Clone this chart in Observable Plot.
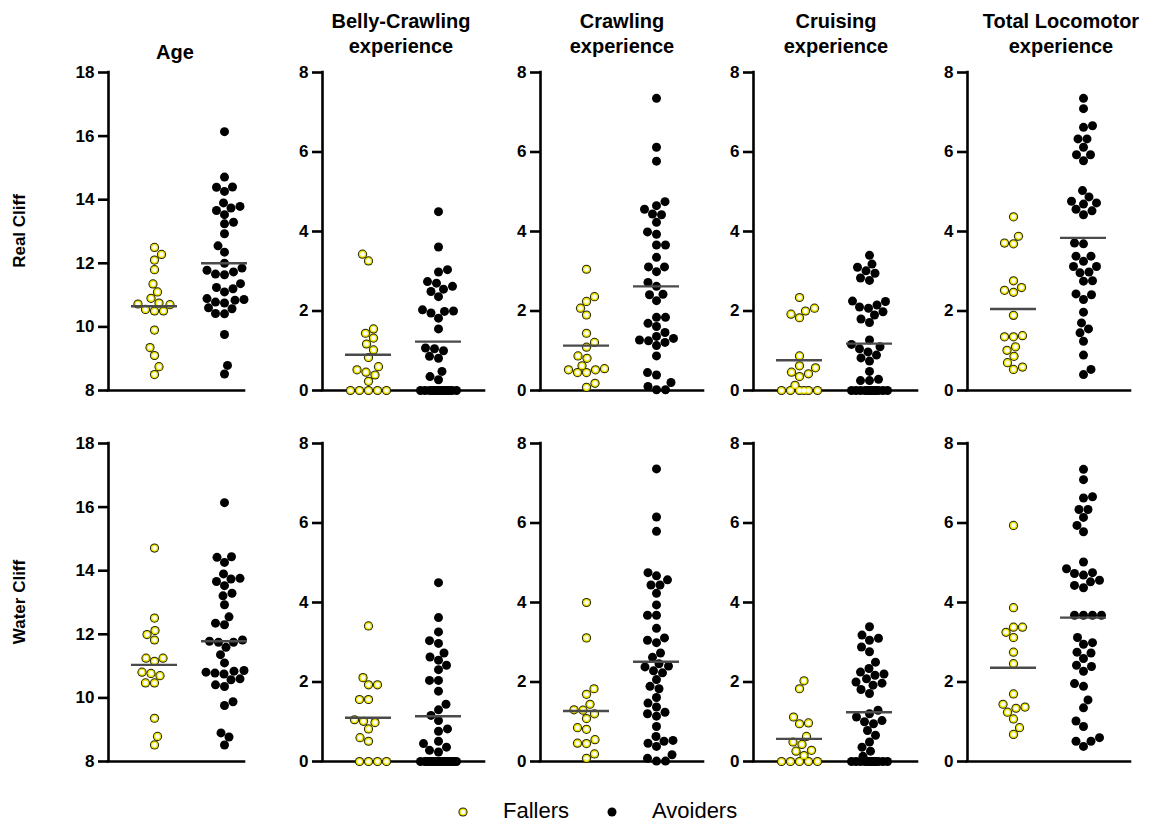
<!DOCTYPE html>
<html>
<head>
<meta charset="utf-8">
<script src="https://cdn.jsdelivr.net/npm/d3@7"></script>
<script src="https://cdn.jsdelivr.net/npm/@observablehq/plot@0.6"></script>
<style>
  html, body { margin: 0; padding: 0; background: #fff; }
  #wrap { position: relative; width: 1157px; height: 823px; font-family: "Liberation Sans", Arial, sans-serif; color: #000; overflow: hidden; }
  .ttl { position: absolute; font-weight: bold; font-size: 20px; line-height: 25px; text-align: center; width: 220px; }
  .row { position: absolute; font-weight: bold; font-size: 17px; white-space: nowrap; transform: translate(-50%, -50%) rotate(-90deg); }
  .panel { position: absolute; }
  .leg { position: absolute; font-size: 22px; white-space: nowrap; }
</style>
</head>
<body>
<div id="wrap"></div>
<script>
// ---------- data ----------
const groups = ["Fallers", "Avoiders"];
const variables = ["Age", "Belly-Crawling experience", "Crawling experience", "Cruising experience", "Total Locomotor experience"];
const rowLabels = ["Real Cliff", "Water Cliff"];
const ageTicks = [8, 10, 12, 14, 16, 18];
const expTicks = [0, 2, 4, 6, 8];

// Real cliff
const realAgeFallers = [12.5, 12.28, 12.1, 11.8, 11.35, 11.1, 10.9, 10.72, 10.75, 10.7, 10.5, 10.55, 10.5, 9.9, 9.35, 9.1, 8.75, 8.5];
const realAgeAvoiders = [16.14, 14.71, 14.4, 14.39, 14.26, 13.9, 13.79, 13.74, 13.66, 13.53, 13.29, 13.24, 12.93, 12.55, 12.35, 12.0, 11.85, 11.78, 11.73, 11.64, 11.66, 11.36, 11.24, 11.2, 11.1, 10.86, 10.84, 10.78, 10.75, 10.89, 10.6, 10.57, 10.42, 10.41, 9.76, 8.79, 8.52];
const realBellyFallers = [3.43, 3.26, 1.55, 1.44, 1.32, 1.17, 1.02, 0.83, 0.6, 0.52, 0.46, 0.39, 0.23, 0, 0, 0, 0, 0];
const realBellyAvoiders = [4.5, 3.61, 3.04, 2.98, 2.74, 2.7, 2.62, 2.55, 2.49, 2.36, 2.03, 2.0, 1.99, 1.95, 1.82, 1.55, 1.07, 1.05, 1.0, 0.86, 0.81, 0.48, 0.35, 0.27, 0, 0, 0, 0, 0, 0, 0, 0, 0, 0, 0, 0, 0, 0];
const realCrawlFallers = [3.05, 2.36, 2.24, 2.07, 1.9, 1.44, 1.21, 1.09, 0.87, 0.81, 0.62, 0.52, 0.45, 0.45, 0.52, 0.55, 0.18, 0.08];
const realCrawlAvoiders = [7.35, 6.12, 5.77, 4.75, 4.56, 4.65, 4.42, 4.44, 4.23, 3.99, 3.93, 3.66, 3.66, 3.35, 3.11, 3.11, 2.99, 2.72, 2.62, 2.41, 2.42, 2.26, 1.84, 1.84, 1.69, 1.61, 1.46, 1.36, 1.31, 1.21, 1.25, 1.27, 1.13, 0.87, 0.39, 0.45, 0.2, 0.1, 0.02, 0.02];
const realCruiseFallers = [2.34, 2.07, 2.0, 1.92, 1.83, 0.87, 0.62, 0.57, 0.46, 0.42, 0.35, 0.13, 0, 0, 0, 0, 0, 0];
const realCruiseAvoiders = [3.4, 3.18, 3.1, 3.01, 2.95, 2.83, 2.77, 2.25, 2.24, 2.15, 2.1, 2.07, 1.98, 1.9, 1.8, 1.71, 1.27, 1.16, 1.1, 1.05, 0.97, 0.89, 0.82, 0.74, 0.48, 0.28, 0.25, 0.25, 0, 0, 0, 0, 0, 0, 0, 0, 0, 0, 0, 0];
const realTotalFallers = [4.37, 3.88, 3.69, 3.71, 2.76, 2.52, 2.59, 2.47, 1.89, 1.35, 1.38, 1.35, 1.01, 1.1, 0.86, 0.7, 0.59, 0.53];
const realTotalAvoiders = [7.35, 7.09, 6.62, 6.66, 6.33, 6.33, 6.12, 5.93, 5.93, 5.78, 5.03, 4.87, 4.76, 4.72, 4.69, 4.56, 4.52, 4.42, 3.71, 3.69, 3.38, 3.38, 3.25, 3.12, 3.12, 2.96, 2.98, 2.75, 2.76, 2.41, 2.43, 2.29, 1.97, 1.7, 1.55, 1.45, 1.24, 0.89, 0.53, 0.4];
const realMeansFallers = [10.65, 0.9, 1.13, 0.76, 2.05];
const realMeansAvoiders = [12.0, 1.23, 2.62, 1.18, 3.84];

// Water cliff
const waterAgeFallers = [14.71, 12.51, 12.12, 11.99, 11.82, 11.25, 11.25, 11.15, 10.81, 10.7, 10.77, 10.47, 10.47, 9.36, 8.79, 8.52];
const waterAgeAvoiders = [16.14, 14.42, 14.44, 14.26, 13.74, 13.76, 13.66, 13.9, 13.53, 13.29, 13.21, 12.93, 12.55, 12.35, 12.3, 11.82, 11.75, 11.75, 11.78, 11.59, 11.36, 11.1, 10.86, 10.84, 10.78, 10.81, 10.75, 10.6, 10.57, 10.41, 10.36, 9.88, 9.76, 8.9, 8.77, 8.52];
const waterBellyFallers = [3.41, 2.11, 1.93, 1.93, 1.56, 1.56, 1.05, 1.01, 0.98, 0.82, 0.6, 0.51, 0, 0, 0, 0];
const waterBellyAvoiders = [4.5, 3.62, 3.26, 3.04, 2.97, 2.73, 2.63, 2.55, 2.42, 2.31, 2.04, 2.04, 1.77, 1.44, 1.3, 1.16, 1.03, 0.82, 0.76, 0.51, 0.45, 0.36, 0.28, 0.24, 0, 0, 0, 0, 0, 0, 0, 0, 0, 0, 0, 0, 0, 0, 0, 0];
const waterCrawlFallers = [4.0, 3.11, 1.83, 1.69, 1.44, 1.29, 1.3, 1.2, 1.08, 0.85, 0.81, 0.55, 0.46, 0.45, 0.19, 0.08];
const waterCrawlAvoiders = [7.36, 6.15, 5.79, 4.75, 4.67, 4.57, 4.44, 4.44, 4.23, 3.94, 3.68, 3.68, 3.35, 3.11, 3.05, 2.99, 2.73, 2.62, 2.46, 2.38, 2.4, 2.28, 2.23, 2.06, 1.89, 1.83, 1.61, 1.47, 1.37, 1.24, 1.2, 1.14, 0.88, 0.63, 0.51, 0.46, 0.53, 0.38, 0.17, 0.08, 0.01, 0.01];
const waterCruiseFallers = [2.03, 1.83, 1.12, 0.95, 0.97, 0.63, 0.49, 0.43, 0.28, 0.26, 0.15, 0, 0, 0, 0, 0];
const waterCruiseAvoiders = [3.39, 3.18, 3.1, 3.05, 2.88, 2.76, 2.5, 2.34, 2.25, 2.2, 2.17, 2.08, 2.0, 1.97, 1.92, 1.81, 1.71, 1.29, 1.2, 1.12, 1.03, 1.0, 0.95, 0.78, 0.66, 0.49, 0.36, 0.26, 0.13, 0, 0, 0, 0, 0, 0, 0, 0, 0, 0, 0, 0];
const waterTotalFallers = [5.94, 3.87, 3.38, 3.38, 3.25, 3.12, 2.75, 2.46, 1.7, 1.44, 1.37, 1.34, 1.24, 1.07, 0.85, 0.68];
const waterTotalAvoiders = [7.35, 7.09, 6.66, 6.63, 6.34, 6.34, 6.14, 5.94, 5.78, 5.02, 4.85, 4.75, 4.73, 4.69, 4.56, 4.52, 4.43, 4.37, 3.68, 3.68, 3.68, 3.68, 3.12, 2.99, 2.95, 2.75, 2.73, 2.59, 2.42, 2.39, 2.27, 1.89, 1.96, 1.55, 1.35, 1.02, 0.88, 0.6, 0.51, 0.51, 0.38];
const waterMeansFallers = [11.04, 1.1, 1.27, 0.57, 2.36];
const waterMeansAvoiders = [11.78, 1.14, 2.51, 1.24, 3.62];

const table = [
  [[realAgeFallers, realAgeAvoiders], [realBellyFallers, realBellyAvoiders], [realCrawlFallers, realCrawlAvoiders], [realCruiseFallers, realCruiseAvoiders], [realTotalFallers, realTotalAvoiders]],
  [[waterAgeFallers, waterAgeAvoiders], [waterBellyFallers, waterBellyAvoiders], [waterCrawlFallers, waterCrawlAvoiders], [waterCruiseFallers, waterCruiseAvoiders], [waterTotalFallers, waterTotalAvoiders]]
];
const means = [[realMeansFallers, realMeansAvoiders], [waterMeansFallers, waterMeansAvoiders]];

// ---------- layout ----------
const axisX = [108, 322, 540, 753, 967];
const innerW = [136, 162, 163, 164, 163];
const frameTop = [72, 443];
const innerH = 318;
const mL = 50, mR = 8, mT = 10, mB = 10;
const unitPx = 70;     // pixels between the two group centres
const firstPx = 46;    // first group centre, from the axis
const dotD = 9;        // dot diameter used by the swarm layout
const halfSpread = 20; // max half-width of a swarm
const halfMean = 23;   // half-length of mean line in px
const titleCx = [175, 401, 622, 836, 1061];
const yellow = "#eee400";

// beeswarm layout (pixel offsets computed from values)
function swarm(vals, ppu) {
  const idx = d3.range(vals.length).sort((a, b) => d3.ascending(vals[a], vals[b]));
  const placed = [], off = new Array(vals.length);
  const cands = [0];
  for (let c = 0.5; c <= halfSpread; c += 0.5) cands.push(c, -c);
  let flip = 1;
  for (const i of idx) {
    const y = vals[i] * ppu;
    let best = 0, bestD = -1;
    for (const c0 of cands) {
      const c = c0 * flip;
      let m = Infinity;
      for (const p of placed) {
        if (Math.abs(p.y - y) < dotD) {
          const dd = Math.hypot(p.x - c, p.y - y);
          if (dd < m) m = dd;
        }
      }
      if (m >= dotD) { best = c; bestD = Infinity; break; }
      if (m > bestD + 1e-9) { bestD = m; best = c; }
    }
    if (best !== 0) flip = -flip;
    off[i] = best;
    placed.push({x: best, y});
  }
  return off;
}

const wrap = document.getElementById("wrap");

function addDiv(cls, html, style) {
  const d = document.createElement("div");
  d.className = cls;
  d.innerHTML = html;
  Object.assign(d.style, style);
  wrap.appendChild(d);
  return d;
}

// titles
variables.forEach((v, c) => {
  const words = v.split(" ");
  let html;
  if (words.length === 1) html = v;
  else html = words.slice(0, -1).join(" ") + "<br>" + words[words.length - 1];
  const top = words.length === 1 ? 40 : 9;
  addDiv("ttl", html, {left: (titleCx[c] - 110) + "px", top: top + "px"});
});

// row labels
rowLabels.forEach((r, ri) => {
  addDiv("row", r, {left: "20px", top: (frameTop[ri] + innerH / 2) + "px"});
});

// faller symbol layers: dark rim, yellow ring, light centre
const fallerLayers = [
  {r: 4.6, fill: "#262600"},
  {r: 3.6, fill: yellow},
  {r: 2.3, fill: "#ffffff"}
];

// panels
for (let ri = 0; ri < 2; ri++) {
  for (let c = 0; c < 5; c++) {
    const yDomain = c === 0 ? [8, 18] : [0, 8];
    const ticks = c === 0 ? ageTicks : expTicks;
    const ppu = innerH / (yDomain[1] - yDomain[0]);
    const W = innerW[c];
    const xDomain = [-firstPx / unitPx, (W - firstPx) / unitPx];
    const pts = [];
    groups.forEach((g, gi) => {
      const vals = table[ri][c][gi];
      const off = swarm(vals, ppu);
      vals.forEach((v, i) => pts.push({g, gi, v, x: gi + off[i] / unitPx}));
    });
    const mData = groups.map((g, gi) => ({g, gi, m: means[ri][gi][c]}));
    const fallers = pts.filter(d => d.g === "Fallers");
    const avoiders = pts.filter(d => d.g === "Avoiders");
    const hl = halfMean / unitPx;
    const svg = Plot.plot({
      width: W + mL + mR,
      height: innerH + mT + mB,
      marginLeft: mL, marginRight: mR, marginTop: mT, marginBottom: mB,
      x: {domain: xDomain, axis: null},
      y: {domain: yDomain, axis: null},
      style: {fontFamily: "'Liberation Sans', Arial, sans-serif", color: "#000", background: "transparent", overflow: "visible"},
      marks: [
        Plot.ruleX([xDomain[0]], {stroke: "#000", strokeWidth: 2.6, strokeLinecap: "square"}),
        Plot.ruleY([yDomain[0]], {stroke: "#000", strokeWidth: 2.6, strokeLinecap: "square"}),
        Plot.axisY({ticks, tickSize: 10, tickPadding: 4, fontSize: 17, fontWeight: "bold", strokeWidth: 2.6, tickFormat: d => String(d)}),
        Plot.dot(avoiders, {x: "x", y: "v", r: 4.5, fill: "#000", stroke: "none"}),
        ...fallerLayers.map(L => Plot.dot(fallers, {x: "x", y: "v", r: L.r, fill: L.fill, stroke: "none"})),
        Plot.ruleY(mData, {y: "m", x1: d => d.gi - hl, x2: d => d.gi + hl, stroke: "#4a4a4a", strokeWidth: 2.4})
      ]
    });
    svg.classList.add("panel");
    svg.style.left = (axisX[c] - mL) + "px";
    svg.style.top = (frameTop[ri] - mT) + "px";
    wrap.appendChild(svg);
  }
}

// legend
const legSym = (kind) => kind === "Fallers"
  ? `<svg width="12" height="12" style="vertical-align:middle">${fallerLayers.map(L => `<circle cx="6" cy="6" r="${L.r}" fill="${L.fill}"/>`).join("")}</svg>`
  : `<svg width="12" height="12" style="vertical-align:middle"><circle cx="6" cy="6" r="4.5" fill="#000"/></svg>`;
const legX = [457, 606];
groups.forEach((g, gi) => {
  addDiv("leg", legSym(g), {left: legX[gi] + "px", top: "799px", lineHeight: "24px"});
  addDiv("leg", g, {left: (legX[gi] + 46) + "px", top: "798px", lineHeight: "26px"});
});
</script>
</body>
</html>
